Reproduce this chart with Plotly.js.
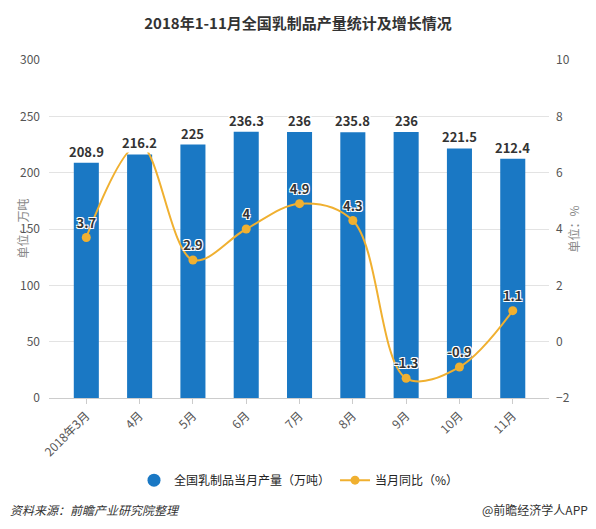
<!DOCTYPE html>
<html><head><meta charset="utf-8">
<script src="https://cdn.plot.ly/plotly-3.0.1.min.js"></script>
<style>html,body{margin:0;padding:0;background:#fff}#chart{width:596px;height:529px}</style>
</head><body><div id="chart"></div>
<script>
const categories = ['2018年3月','4月','5月','6月','7月','8月','9月','10月','11月'];
const production = [208.9, 216.2, 225, 236.3, 236, 235.8, 236, 221.5, 212.4];
const growth = [3.7, 7.0, 2.9, 4, 4.9, 4.3, -1.3, -0.9, 1.1];
const growthLabels = ['3.7', '', '2.9', '4', '4.9', '4.3', '-1.3', '-0.9', '1.1'];
const productionName = '全国乳制品当月产量（万吨）';
const growthName = '当月同比（%）';

const FONT = '"Noto Sans CJK SC", "Noto Sans", sans-serif';
const BLUE = '#1a78c4';
const ORANGE = '#f0b030';
const halo = '1px 1px 0 #fff, -1px -1px 0 #fff, 1px -1px 0 #fff, -1px 1px 0 #fff';

const traces = [
  {
    type: 'bar', x: categories, y: production, width: 0.47,
    marker: {color: BLUE}, showlegend: false, name: productionName,
    hoverinfo: 'x+y'
  },
  {
    type: 'scatter', x: [null], y: [null], mode: 'markers', name: productionName,
    marker: {color: BLUE, size: 13, symbol: 'circle'}, showlegend: true
  },
  {
    type: 'scatter', x: categories, y: growth, yaxis: 'y2', name: growthName,
    mode: 'lines+markers+text', cliponaxis: false,
    line: {color: ORANGE, width: 2, shape: 'spline', smoothing: 1},
    marker: {color: ORANGE, size: 9},
    text: growthLabels, textposition: 'top center',
    textfont: {family: FONT, size: 13, color: '#333', weight: 'bold', shadow: halo}
  }
];

const barLabels = categories.map((c, i) => ({
  x: c, y: production[i], xref: 'x', yref: 'y', text: String(production[i]),
  showarrow: false, yanchor: 'bottom', yshift: 1, bgcolor: '#fff', borderpad: 0,
  font: {family: FONT, size: 13, color: '#333', weight: 'bold'}
}));

const layout = {
  width: 596, height: 529,
  margin: {l: 49, r: 47, t: 60, b: 131},
  paper_bgcolor: '#fff', plot_bgcolor: '#fff',
  font: {family: FONT, size: 12, color: '#555'},
  title: {text: '2018年1-11月全国乳制品产量统计及增长情况', x: 0.5, xref: 'container', y: 0.955, yref: 'container', yanchor: 'middle',
          font: {family: FONT, size: 15, color: '#333', weight: 'bold'}},
  xaxis: {type: 'category', range: [-0.7, 8.68], tickangle: -45, ticks: 'outside', ticklen: 5, tickcolor: '#ccc',
          showline: true, linecolor: '#ccc', showgrid: false, zeroline: false,
          tickfont: {family: FONT, size: 12, color: '#555'}},
  yaxis: {range: [0, 300], dtick: 50, gridcolor: '#e3e3e3', zeroline: false, showline: false,
          ticklabelstandoff: 8, tickfont: {family: FONT, size: 12, color: '#555'}},
  yaxis2: {overlaying: 'y', side: 'right', range: [-2, 10], dtick: 2, showgrid: false, zeroline: false,
           showline: false, ticklabelstandoff: 6, tickfont: {family: FONT, size: 12, color: '#555'}},
  legend: {orientation: 'h', x: 0.5, xanchor: 'center', y: -0.243, yanchor: 'middle',
           font: {family: FONT, size: 12, color: '#222'}, itemclick: false},
  showlegend: true, bargap: 0.5,
  annotations: barLabels.concat([
    {text: '单位：万吨', xref: 'paper', yref: 'paper', x: -0.076, y: 0.5, textangle: -90, showarrow: false,
     font: {family: FONT, size: 12, color: '#888'}},
    {text: '单位：%', xref: 'paper', yref: 'paper', x: 1.068, y: 0.5, textangle: -90, showarrow: false,
     font: {family: FONT, size: 12, color: '#888'}},
    {text: '资料来源：前瞻产业研究院整理', xref: 'paper', yref: 'paper', x: -0.082, y: -0.331, xanchor: 'left', yanchor: 'middle',
     showarrow: false, font: {family: FONT, size: 12, color: '#333', style: 'italic'}},
    {text: '@前瞻经济学人APP', xref: 'paper', yref: 'paper', x: 1.082, y: -0.331, xanchor: 'right', yanchor: 'middle',
     showarrow: false, font: {family: FONT, size: 12, color: '#333'}}
  ])
};

Plotly.newPlot('chart', traces, layout, {displayModeBar: false, staticPlot: true});
</script>
</body></html>
